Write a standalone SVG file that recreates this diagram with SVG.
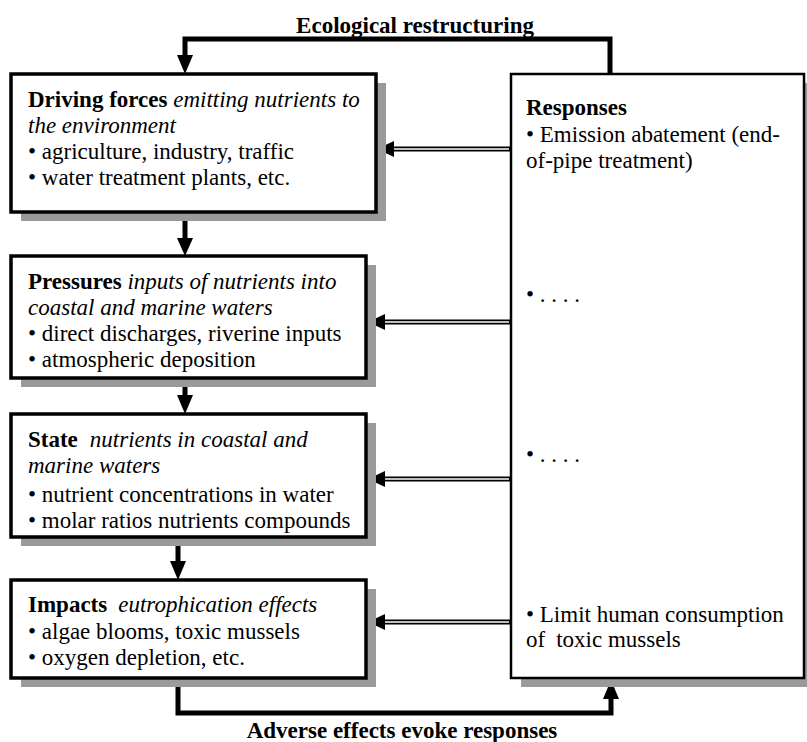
<svg xmlns="http://www.w3.org/2000/svg" width="807" height="742" viewBox="0 0 807 742" font-family="'Liberation Serif', 'Times New Roman', serif" font-size="23">
<style>
.bg{fill:#fff}
.box{fill:#fff;stroke:#000;stroke-width:3.5}
.rbox{fill:#fff;stroke:#000;stroke-width:2.5}
.shadow{fill:#9a9a9a}
.t{font-family:'Liberation Serif','Times New Roman',serif;font-size:23px;fill:#000}
.b{font-weight:bold}
.i{font-style:italic}
.lbl{font-weight:bold;text-anchor:middle}
.thick{fill:none;stroke:#000;stroke-width:5}
.dblo{fill:none;stroke:#000;stroke-width:5}
.dbli{fill:none;stroke:#fff;stroke-width:1.6}
.head{fill:#000}
</style>
<rect class="bg" x="0" y="0" width="807" height="742"/>

<g id="connectors">
  <path class="thick" d="M610,73 V39 H185 V57"/>
  <polygon class="head" points="177,55 193,55 185,74"/>
  <text class="t lbl" x="415" y="33">Ecological restructuring</text>

  <line class="thick" x1="185" y1="212" x2="185" y2="240"/>
  <polygon class="head" points="177,238 193,238 185,256"/>
  <line class="thick" x1="185" y1="378" x2="185" y2="397"/>
  <polygon class="head" points="177,395 193,395 185,414"/>
  <line class="thick" x1="178" y1="537" x2="178" y2="563"/>
  <polygon class="head" points="170,561 186,561 178,580"/>

  <path class="thick" d="M178,678 V713 H611 V697"/>
  <polygon class="head" points="603,699 619,699 611,680"/>
  <text class="t lbl" x="402" y="738">Adverse effects evoke responses</text>

  <line class="dblo" x1="511" y1="149" x2="392" y2="149"/>
  <line class="dbli" x1="509" y1="149" x2="392" y2="149"/>
  <polygon class="head" points="394,141 394,157 377,149"/>

  <line class="dblo" x1="511" y1="322" x2="383" y2="322"/>
  <line class="dbli" x1="509" y1="322" x2="383" y2="322"/>
  <polygon class="head" points="385,314 385,330 368,322"/>

  <line class="dblo" x1="511" y1="479" x2="383" y2="479"/>
  <line class="dbli" x1="509" y1="479" x2="383" y2="479"/>
  <polygon class="head" points="385,471 385,487 368,479"/>

  <line class="dblo" x1="511" y1="622" x2="383" y2="622"/>
  <line class="dbli" x1="509" y1="622" x2="383" y2="622"/>
  <polygon class="head" points="385,614 385,630 368,622"/>
</g>

<g id="driving">
  <rect class="shadow" x="21" y="83" width="365" height="138"/>
  <rect class="box" x="11" y="74" width="365" height="138"/>
  <text class="t" x="28" y="107"><tspan class="b">Driving forces</tspan> <tspan class="i">emitting nutrients to</tspan></text>
  <text class="t i" x="28" y="133">the environment</text>
  <text class="t" x="28" y="159">• agriculture, industry, traffic</text>
  <text class="t" x="28" y="185">• water treatment plants, etc.</text>
</g>

<g id="pressures">
  <rect class="shadow" x="21" y="265" width="355" height="122"/>
  <rect class="box" x="11" y="256" width="355" height="122"/>
  <text class="t" x="28" y="289"><tspan class="b">Pressures</tspan> <tspan class="i">inputs of nutrients into</tspan></text>
  <text class="t i" x="28" y="315">coastal and marine waters</text>
  <text class="t" x="28" y="341">• direct discharges, riverine inputs</text>
  <text class="t" x="28" y="367">• atmospheric deposition</text>
</g>

<g id="state">
  <rect class="shadow" x="21" y="423" width="355" height="123"/>
  <rect class="box" x="11" y="414" width="355" height="123"/>
  <text class="t" x="28" y="447"><tspan class="b">State</tspan><tspan class="i" dx="12">nutrients in coastal and</tspan></text>
  <text class="t i" x="28" y="473">marine waters</text>
  <text class="t" x="28" y="502">• nutrient concentrations in water</text>
  <text class="t" x="28" y="528">• molar ratios nutrients compounds</text>
</g>

<g id="impacts">
  <rect class="shadow" x="21" y="589" width="355" height="98"/>
  <rect class="box" x="11" y="580" width="355" height="98"/>
  <text class="t" x="28" y="612"><tspan class="b">Impacts</tspan><tspan class="i" dx="11">eutrophication effects</tspan></text>
  <text class="t" x="28" y="639">• algae blooms, toxic mussels</text>
  <text class="t" x="28" y="665">• oxygen depletion, etc.</text>
</g>

<g id="responses">
  <rect class="shadow" x="521" y="83" width="293" height="604"/>
  <rect class="rbox" x="511" y="74" width="293" height="604"/>
  <text class="t b" x="526" y="115">Responses</text>
  <text class="t" x="526" y="142">• Emission abatement (end-</text>
  <text class="t" x="526" y="168">of-pipe treatment)</text>
  <text class="t" x="526" y="302">• . . . .</text>
  <text class="t" x="526" y="462">• . . . .</text>
  <text class="t" x="526" y="622">• Limit human consumption</text>
  <text class="t" x="526" y="647">of<tspan dx="11">toxic mussels</tspan></text>
</g>
</svg>
